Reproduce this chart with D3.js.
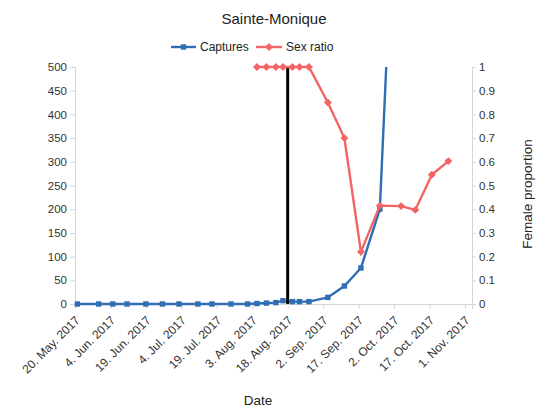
<!DOCTYPE html>
<html>
<head>
<meta charset="utf-8">
<script src="https://cdn.jsdelivr.net/npm/d3@7"></script>
<style>
  html, body { margin: 0; padding: 0; background: #fff; }
  svg { display: block; font-family: "Liberation Sans", Arial, Helvetica, sans-serif; }
</style>
</head>
<body>
<svg id="chart" width="548" height="411"></svg>
<script>
// Sampling dates and capture counts
const captureDates = ["2017-05-21","2017-05-30","2017-06-05","2017-06-11","2017-06-19","2017-06-26",
  "2017-07-03","2017-07-11","2017-07-17","2017-07-25","2017-08-01","2017-08-05","2017-08-09",
  "2017-08-13","2017-08-16","2017-08-20","2017-08-23","2017-08-27","2017-09-04","2017-09-11",
  "2017-09-18","2017-09-26","2017-10-05"];
const captures = [0,0,0,0,0,0,0,0,0,0,0,1,2,3,7,5,5,5,14,38,76,200,1200];

// Female proportion among captured individuals
const sexRatioDates = ["2017-08-05","2017-08-09","2017-08-13","2017-08-16","2017-08-20","2017-08-23",
  "2017-08-27","2017-09-04","2017-09-11","2017-09-18","2017-09-26","2017-10-05","2017-10-11",
  "2017-10-18","2017-10-25"];
const sexRatio = [1,1,1,1,1,1,1,0.85,0.70,0.22,0.415,0.413,0.397,0.545,0.603];

// Axis ticks
const dateTicks = ["2017-05-20","2017-06-04","2017-06-19","2017-07-04","2017-07-19","2017-08-03",
  "2017-08-18","2017-09-02","2017-09-17","2017-10-02","2017-10-17","2017-11-01"];
const captureTicks = [0,50,100,150,200,250,300,350,400,450,500];
const ratioTicks = [0,0.1,0.2,0.3,0.4,0.5,0.6,0.7,0.8,0.9,1];
const markerDate = "2017-08-18";
const xDomain = ["2017-05-20","2017-11-04"];

(function () {
const parse = d3.timeParse("%Y-%m-%d");
const fmt = d3.timeFormat("%-d. %b. %Y");

const blue = "#2f6db5";
const red = "#f26466";

const svg = d3.select("#chart");
const pLeft = 75, pRight = 472, pTop = 67, pBottom = 304;

const x = d3.scaleTime().domain(xDomain.map(parse)).range([pLeft, pRight]);
const yL = d3.scaleLinear().domain([0, 500]).range([pBottom, pTop]);
const yR = d3.scaleLinear().domain([0, 1]).range([pBottom, pTop]);

// Title
svg.append("text").attr("x", 274).attr("y", 24).attr("text-anchor", "middle")
  .attr("font-size", 15).attr("fill", "#222").text("Sainte-Monique");

// Clip for the captures line
svg.append("clipPath").attr("id", "plot").append("rect")
  .attr("x", pLeft - 10).attr("y", pTop).attr("width", pRight - pLeft + 20).attr("height", pBottom - pTop + 10);

// Left axis
const gL = svg.append("g").attr("transform", `translate(${pLeft},0)`)
  .call(d3.axisLeft(yL).tickValues(captureTicks).tickSize(5).tickPadding(3).tickFormat(d3.format("d")));
gL.select(".domain").attr("stroke", "#d6d6d6");
gL.selectAll(".tick line").attr("stroke", "#d6d6d6");
gL.selectAll(".tick text").attr("font-size", 11.5).attr("fill", "#333");

// Right axis
const gR = svg.append("g").attr("transform", `translate(${pRight},0)`)
  .call(d3.axisRight(yR).tickValues(ratioTicks).tickSize(4).tickPadding(3).tickFormat(d => d3.format("~g")(d)));
gR.select(".domain").attr("stroke", "#d6d6d6");
gR.selectAll(".tick line").attr("stroke", "#d6d6d6");
gR.selectAll(".tick text").attr("font-size", 11.5).attr("fill", "#333");

// Bottom axis
const gX = svg.append("g").attr("transform", `translate(0,${pBottom})`)
  .call(d3.axisBottom(x).tickValues(dateTicks.map(parse)).tickSize(5).tickFormat(fmt));
gX.select(".domain").attr("stroke", "#d6d6d6");
gX.selectAll(".tick line").attr("stroke", "#d6d6d6");
gX.selectAll(".tick text").attr("font-size", 12).attr("fill", "#333")
  .attr("text-anchor", "end").attr("x", 0).attr("y", 0)
  .attr("dx", "0em").attr("dy", "0.35em")
  .attr("transform", "translate(2,14) rotate(-45)");

// Axis titles
svg.append("text").attr("x", 258).attr("y", 405).attr("text-anchor", "middle")
  .attr("font-size", 13.5).attr("fill", "#222").text("Date");
svg.append("text").attr("transform", "translate(532,194) rotate(-90)").attr("text-anchor", "middle")
  .attr("font-size", 13.5).attr("fill", "#222").text("Female proportion");

// Captures series
const capData = captureDates.map((d, i) => ({ date: parse(d), v: captures[i] }));
svg.append("path").datum(capData).attr("clip-path", "url(#plot)")
  .attr("fill", "none").attr("stroke", blue).attr("stroke-width", 2.4)
  .attr("d", d3.line().x(d => x(d.date)).y(d => yL(d.v)));
svg.append("g").selectAll("rect").data(capData.filter(d => d.v <= 500)).join("rect")
  .attr("x", d => x(d.date) - 2.7).attr("y", d => yL(d.v) - 2.7)
  .attr("width", 5.4).attr("height", 5.4).attr("fill", blue);

// Marker date line
svg.append("line").attr("x1", x(parse(markerDate))).attr("x2", x(parse(markerDate)))
  .attr("y1", yL(500)).attr("y2", yL(0)).attr("stroke", "#000").attr("stroke-width", 3);

// Sex ratio series
const srData = sexRatioDates.map((d, i) => ({ date: parse(d), v: sexRatio[i] }));
svg.append("path").datum(srData).attr("fill", "none").attr("stroke", red).attr("stroke-width", 2.4)
  .attr("d", d3.line().x(d => x(d.date)).y(d => yR(d.v)));
const diamond = d3.symbol().type(d3.symbolDiamond2).size(40);
svg.append("g").selectAll("path").data(srData).join("path")
  .attr("transform", d => `translate(${x(d.date)},${yR(d.v)})`)
  .attr("d", diamond).attr("fill", red);

// Legend
const lg = svg.append("g").attr("transform", "translate(0,47)");
lg.append("line").attr("x1", 171).attr("x2", 196).attr("y1", 0).attr("y2", 0)
  .attr("stroke", blue).attr("stroke-width", 2.4);
lg.append("rect").attr("x", 180.8).attr("y", -2.7).attr("width", 5.4).attr("height", 5.4).attr("fill", blue);
lg.append("text").attr("x", 200).attr("y", 4.3).attr("font-size", 12).attr("fill", "#222").text("Captures");
lg.append("line").attr("x1", 256).attr("x2", 282).attr("y1", 0).attr("y2", 0)
  .attr("stroke", red).attr("stroke-width", 2.4);
lg.append("path").attr("transform", "translate(269,0)").attr("d", diamond).attr("fill", red);
lg.append("text").attr("x", 286).attr("y", 4.3).attr("font-size", 12).attr("fill", "#222").text("Sex ratio");
})();
</script>
</body>
</html>
